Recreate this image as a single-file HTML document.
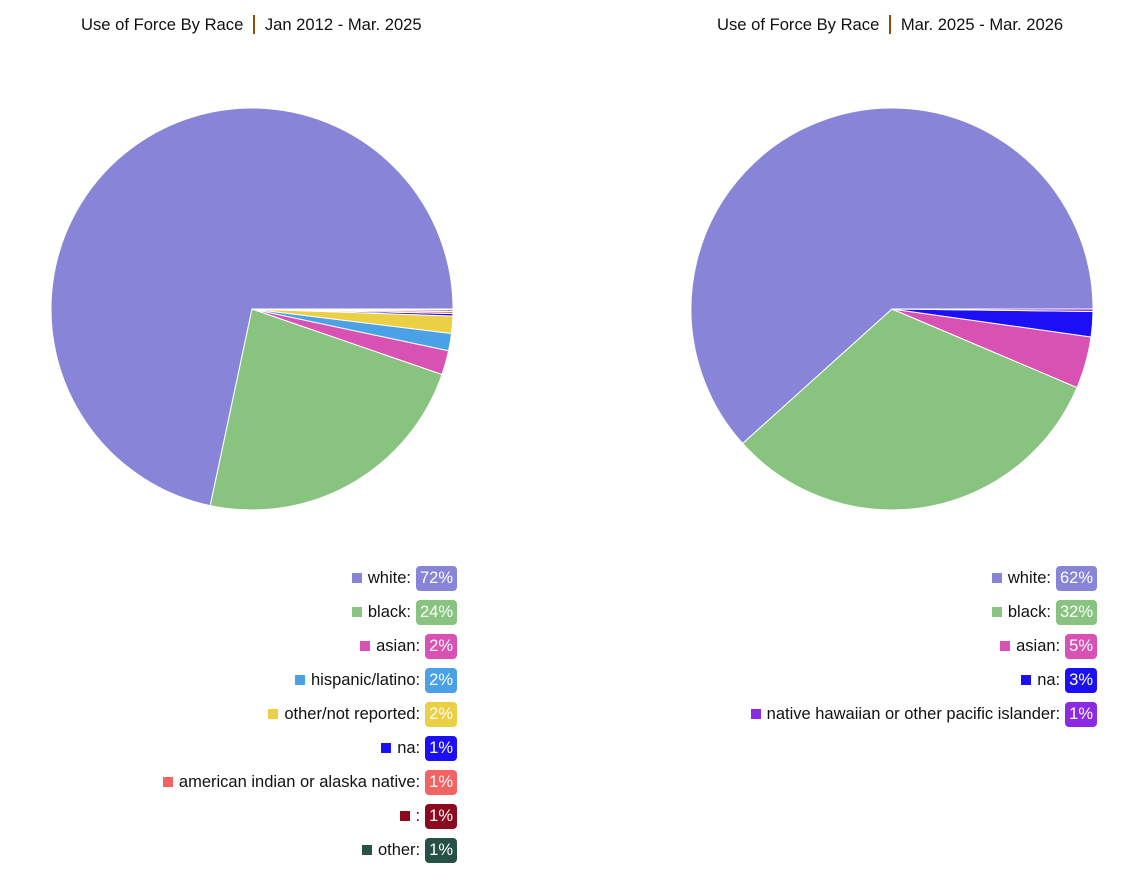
<!DOCTYPE html>
<html><head><style>
body{margin:0;background:#fff;font-family:"Liberation Sans",sans-serif;}
.t{position:absolute;top:15px;font-size:16.6px;color:#111;white-space:nowrap}
.t span{display:inline-block;width:1.5px;height:19px;background:#8a4a10;vertical-align:-4px;margin:0 10px}
.lg{position:absolute;font-size:16.5px;color:#111;text-align:right}
.row{height:34px;display:flex;justify-content:flex-end;align-items:center}
.sq{width:10px;height:10px;margin-right:6px}
.b{color:#fff;border-radius:4px;padding:2px 4px;margin-left:5px;line-height:21px}
</style></head><body>
<div class="t" style="left:81px">Use of Force By Race<span></span>Jan 2012 - Mar. 2025</div>
<div class="t" style="left:717px">Use of Force By Race<span></span>Mar. 2025 - Mar. 2026</div>
<svg width="1147" height="873" style="position:absolute;left:0;top:0" id="s"></svg>
<div class="lg" style="right:690px;top:561px">
<div class="row"><div class="sq" style="background:#8884d8"></div>white:<span class="b" style="background:#8884d8">72%</span></div>
<div class="row"><div class="sq" style="background:#88c47f"></div>black:<span class="b" style="background:#88c47f">24%</span></div>
<div class="row"><div class="sq" style="background:#d852b4"></div>asian:<span class="b" style="background:#d852b4">2%</span></div>
<div class="row"><div class="sq" style="background:#4ba1e6"></div>hispanic/latino:<span class="b" style="background:#4ba1e6">2%</span></div>
<div class="row"><div class="sq" style="background:#ebcf45"></div>other/not reported:<span class="b" style="background:#ebcf45">2%</span></div>
<div class="row"><div class="sq" style="background:#1a0ff5"></div>na:<span class="b" style="background:#1a0ff5">1%</span></div>
<div class="row"><div class="sq" style="background:#f26363"></div>american indian or alaska native:<span class="b" style="background:#f26363">1%</span></div>
<div class="row"><div class="sq" style="background:#8b0a1e"></div>:<span class="b" style="background:#8b0a1e">1%</span></div>
<div class="row"><div class="sq" style="background:#275046"></div>other:<span class="b" style="background:#275046">1%</span></div>
</div>
<div class="lg" style="right:50px;top:561px">
<div class="row"><div class="sq" style="background:#8884d8"></div>white:<span class="b" style="background:#8884d8">62%</span></div>
<div class="row"><div class="sq" style="background:#88c47f"></div>black:<span class="b" style="background:#88c47f">32%</span></div>
<div class="row"><div class="sq" style="background:#d852b4"></div>asian:<span class="b" style="background:#d852b4">5%</span></div>
<div class="row"><div class="sq" style="background:#1a0ff5"></div>na:<span class="b" style="background:#1a0ff5">3%</span></div>
<div class="row"><div class="sq" style="background:#8a2be2"></div>native hawaiian or other pacific islander:<span class="b" style="background:#8a2be2">1%</span></div>
</div>
<script>
var s=document.getElementById('s'),h='';
function pie(cx,cy,r,sl){sl.forEach(function(d){var a=d[0]*Math.PI/180,b=d[1]*Math.PI/180;
var x1=cx+r*Math.cos(a),y1=cy+r*Math.sin(a),x2=cx+r*Math.cos(b),y2=cy+r*Math.sin(b);
h+='<path d="M'+cx+','+cy+'L'+x1+','+y1+'A'+r+','+r+' 0 '+((d[1]-d[0])>180?1:0)+' 1 '+x2+','+y2+'Z" fill="'+d[2]+'" stroke="#fff" stroke-width="1"/>';});}
pie(252,309,201,[[102,360,'#8884d8'],[19,102,'#88c47f'],[12,19,'#d852b4'],[7,12,'#4ba1e6'],[2,7,'#ebcf45'],[1.3,2,'#1a0ff5'],[0.7,1.3,'#f26363'],[0.3,0.7,'#8b0a1e'],[0,0.3,'#275046']]);
pie(892,309,201,[[138,360,'#8884d8'],[23,138,'#88c47f'],[8,23,'#d852b4'],[0.7,8,'#1a0ff5'],[0,0.7,'#8a2be2']]);
s.innerHTML=h;
</script>
</body></html>
